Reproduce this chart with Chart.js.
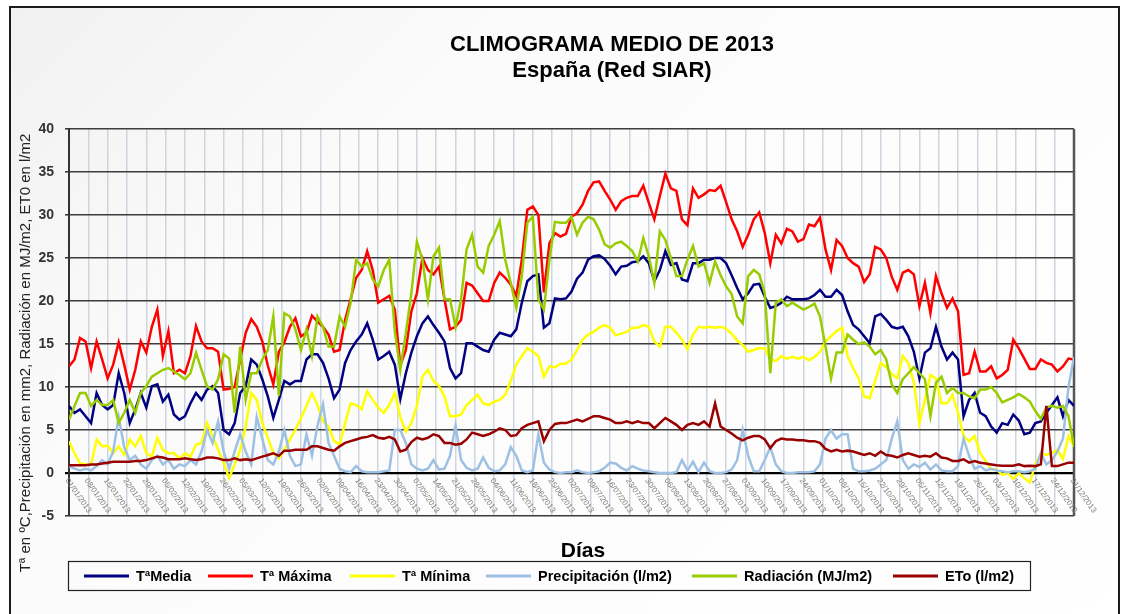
<!DOCTYPE html>
<html lang="es">
<head>
<meta charset="utf-8">
<title>Climograma medio de 2013</title>
<script src="https://cdn.jsdelivr.net/npm/chart.js@4.4.1/dist/chart.umd.min.js"></script>
<style>
  html, body { margin: 0; padding: 0; background: #fff; }
  body { width: 1128px; height: 614px; position: relative; overflow: hidden; }
  #frame {
    position: absolute; left: 9px; top: 6px; width: 1107px; height: 620px;
    border: 2px solid #1c1c1c;
    background: linear-gradient(135deg, #f1f1f1 0%, #fbfbfb 30%, #ffffff 100%);
  }
  #chart { position: absolute; left: 0; top: 0; }
</style>
</head>
<body>
<div id="frame"></div>
<canvas id="chart" width="1128" height="614"></canvas>
<script>
const days = [];
for (let d = 1; d <= 365; d += 2) days.push(d);

// Weekly tick labels on the horizontal axis
const tickLabels = [
  '01/01/2013', '08/01/2013', '15/01/2013', '22/01/2013', '29/01/2013', '05/02/2013', '12/02/2013',
  '19/02/2013', '26/02/2013', '05/03/2013', '12/03/2013', '19/03/2013', '26/03/2013', '02/04/2013',
  '09/04/2013', '16/04/2013', '23/04/2013', '30/04/2013', '07/05/2013', '14/05/2013', '21/05/2013',
  '28/05/2013', '04/06/2013', '11/06/2013', '18/06/2013', '25/06/2013', '02/07/2013', '09/07/2013',
  '16/07/2013', '23/07/2013', '30/07/2013', '06/08/2013', '13/08/2013', '20/08/2013', '27/08/2013',
  '03/09/2013', '10/09/2013', '17/09/2013', '24/09/2013', '01/10/2013', '08/10/2013', '15/10/2013',
  '22/10/2013', '29/10/2013', '05/11/2013', '12/11/2013', '19/11/2013', '26/11/2013', '03/12/2013',
  '10/12/2013', '17/12/2013', '24/12/2013', '31/12/2013'
];

const seriesNames = ['TªMedia', 'Tª Máxima', 'Tª Mínima', 'Precipitación (l/m2)', 'Radiación (MJ/m2)', 'ETo (l/m2)'];

const tMedia = [
  7.8, 7.0, 7.4, 6.6, 5.8, 9.3, 7.9, 7.4, 7.9, 11.6,
  9.3, 5.8, 7.4, 9.3, 7.6, 10.1, 10.3, 8.3, 9.1, 6.8,
  6.2, 6.6, 8.1, 9.3, 8.5, 9.7, 10.1, 9.3, 5.0, 4.5,
  5.8, 9.3, 10.1, 13.2, 12.6, 10.9, 8.9, 6.4, 8.5, 10.7,
  10.3, 10.7, 10.7, 13.2, 13.8, 13.8, 12.8, 11.0, 8.7, 9.7,
  12.8, 14.3, 15.3, 16.1, 17.4, 15.5, 13.2, 13.6, 14.1, 12.6,
  8.6, 11.6, 14.0, 15.9, 17.4, 18.2, 17.2, 16.3, 15.3, 12.2,
  11.0, 11.6, 15.1, 15.1, 14.7, 14.3, 14.1, 15.5, 16.3, 16.1,
  15.9, 16.7, 19.8, 22.3, 22.9, 23.1, 16.9, 17.4, 20.3, 20.2,
  20.3, 21.1, 22.6, 23.3, 24.8, 25.2, 25.3, 24.9, 24.1, 23.1,
  24.0, 24.1, 24.5, 24.6, 25.2, 24.4, 22.3, 23.6, 25.8, 24.2,
  24.4, 22.5, 22.3, 24.4, 24.4, 24.8, 24.8, 25.0, 25.0, 24.4,
  23.0, 21.5, 20.2, 20.9, 21.9, 22.0, 20.5, 19.2, 19.4, 19.8,
  20.5, 20.2, 20.2, 20.2, 20.3, 20.7, 21.3, 20.5, 20.5, 21.3,
  20.7, 18.8, 17.2, 16.7, 15.9, 15.1, 18.2, 18.5, 17.8, 17.0,
  16.8, 17.0, 15.9, 14.1, 11.0, 14.0, 14.5, 17.0, 14.7, 13.2,
  14.0, 13.2, 6.6, 8.5, 9.3, 7.0, 6.6, 5.4, 4.7, 5.8,
  5.6, 6.8, 6.1, 4.5, 4.7, 5.8, 6.0, 7.0, 7.9, 8.8,
  6.6, 8.5, 7.8
];

const tMaxima = [
  12.4, 13.2, 15.7, 15.3, 12.2, 15.3, 13.2, 11.0, 12.6, 15.2,
  12.6, 9.7, 12.0, 15.3, 14.0, 17.0, 19.0, 13.6, 16.5, 11.6,
  12.0, 11.6, 13.6, 17.1, 15.3, 14.5, 14.5, 14.1, 9.7, 9.8,
  10.0, 13.2, 16.3, 17.9, 17.0, 15.3, 12.5, 10.3, 14.1, 15.2,
  17.0, 18.0, 15.9, 16.3, 18.3, 17.6, 17.0, 16.1, 14.1, 14.3,
  17.8, 20.2, 22.7, 23.6, 25.8, 23.6, 19.8, 20.2, 20.6, 19.0,
  12.5, 14.3, 18.8, 20.9, 25.0, 23.6, 23.1, 24.0, 20.2, 16.7,
  17.0, 17.8, 22.1, 21.8, 20.9, 20.0, 20.0, 22.1, 23.3, 22.7,
  21.9, 20.6, 24.8, 30.6, 31.0, 30.0, 21.0, 26.7, 27.9, 27.5,
  27.8, 29.8, 30.2, 31.2, 32.8, 33.8, 33.9, 32.8, 31.8, 30.6,
  31.6, 32.0, 32.2, 32.2, 33.4, 31.4, 29.5, 32.2, 34.8, 33.1,
  32.8, 29.5, 28.8, 33.1, 32.0, 32.4, 32.9, 32.8, 33.4, 31.5,
  29.5, 28.1, 26.3, 27.7, 29.5, 30.3, 27.9, 24.4, 27.7, 26.7,
  28.4, 28.1, 26.9, 27.2, 28.9, 28.7, 29.7, 26.0, 23.6, 27.1,
  26.4, 25.0, 24.4, 24.0, 22.2, 23.1, 26.3, 26.0, 25.0, 22.8,
  21.3, 23.3, 23.6, 23.1, 19.4, 22.1, 18.6, 22.9, 20.9, 19.2,
  20.3, 18.8, 11.4, 11.6, 14.1, 11.8, 11.8, 12.4, 11.0, 11.4,
  12.0, 15.5, 14.5, 13.3, 12.1, 12.1, 13.2, 12.8, 12.6, 11.8,
  12.4, 13.3, 13.2
];

const tMinima = [
  3.7, 2.3, 1.1, 1.0, 1.0, 3.9, 3.1, 3.2, 2.3, 3.1,
  2.1, 3.9, 3.1, 4.3, 2.3, 1.9, 4.1, 2.7, 2.3, 2.3,
  1.7, 2.3, 1.9, 3.3, 3.5, 5.8, 4.3, 2.7, 1.2, -0.6,
  1.0, 2.7, 5.4, 9.3, 8.5, 5.8, 4.1, 2.3, 1.7, 2.7,
  3.9, 5.0, 6.4, 7.8, 9.3, 7.9, 6.0, 5.4, 3.7, 3.3,
  5.8, 8.1, 7.9, 7.4, 9.5, 8.5, 7.6, 7.0, 7.9, 9.3,
  6.5, 4.8, 5.8, 7.8, 11.2, 12.0, 10.7, 10.1, 8.9, 6.6,
  6.6, 6.8, 7.9, 8.5, 9.1, 8.1, 7.9, 8.3, 8.5, 9.1,
  10.7, 12.6, 13.6, 14.5, 14.1, 13.6, 11.2, 12.4, 12.3, 12.7,
  12.7, 13.2, 14.3, 15.5, 16.1, 16.4, 16.9, 17.2, 16.9, 16.0,
  16.2, 16.4, 16.9, 16.9, 17.2, 17.0, 15.3, 14.7, 17.0, 17.0,
  16.3, 15.5, 14.4, 16.1, 17.0, 16.9, 17.0, 16.9, 17.0, 16.8,
  16.2, 15.4, 14.9, 14.1, 14.3, 14.5, 14.5, 13.2, 13.0, 13.6,
  13.3, 13.5, 13.3, 13.5, 13.1, 13.5, 14.1, 15.3, 15.9, 16.5,
  16.9, 13.6, 12.2, 11.0, 8.9, 8.7, 10.7, 12.8, 12.3, 11.5,
  11.0, 13.6, 12.8, 10.5, 5.8, 8.5, 11.4, 11.0, 8.1, 8.1,
  9.1, 7.0, 4.3, 3.7, 4.3, 2.3, 1.4, 0.4, 0.4, -0.2,
  0.0, -0.7, 0.0, -0.6, -1.1, 1.0, 2.3, 2.1, 2.3, 2.7,
  1.6, 4.3, 3.1
];

const precipitacion = [
  0.8, 0.5, 0.3, 0.5, 0.3, 0.8, 1.5, 1.0, 2.5, 6.5,
  3.0, 1.5, 2.0, 1.0, 0.5, 1.5, 2.0, 1.0, 1.5, 0.5,
  1.0, 0.8, 1.5, 1.0, 2.5, 5.0, 3.5, 6.0, 2.5, 0.5,
  2.5, 4.5, 2.5, 1.0, 6.5, 4.0, 1.5, 1.0, 2.5, 5.0,
  2.0, 0.8, 1.0, 4.5, 2.0, 5.5, 8.0, 3.5, 2.0, 0.5,
  0.2, 0.1, 0.8, 0.2, 0.1, 0.1, 0.1, 0.2, 0.3, 5.0,
  5.0, 3.5, 1.0, 0.5, 0.3, 0.5, 1.5, 0.4, 0.5, 2.0,
  5.5, 1.5, 0.6, 0.3, 0.5, 1.8, 0.6, 0.2, 0.3, 1.0,
  3.0, 2.0, 0.3, 0.1, 0.3, 4.5, 1.2, 0.4, 0.1, 0.0,
  0.1, 0.1, 0.3, 0.1, 0.0, 0.1, 0.2, 0.6, 1.2, 1.1,
  0.6, 0.3, 0.8, 0.5, 0.3, 0.2, 0.1, 0.0, 0.0, 0.0,
  0.1, 1.5, 0.3, 1.3, 0.1, 1.2, 0.2, 0.0, 0.0, 0.1,
  0.4, 1.5, 5.0, 2.0, 0.2, 0.2, 1.5, 3.0, 1.0, 0.2,
  0.0, 0.0, 0.1, 0.1, 0.1, 0.2, 1.0, 4.0, 5.0, 4.0,
  4.5, 4.5, 0.5, 0.2, 0.2, 0.3, 0.5, 1.0, 1.5, 4.0,
  6.0, 1.5, 0.5, 1.0, 0.7, 1.2, 0.4, 1.0, 0.3, 0.2,
  0.2, 0.8, 4.0, 2.0, 0.5, 0.8, 0.3, 0.5, 0.3, 0.2,
  0.1, 0.2, 0.2, 0.1, 0.2, 0.5, 2.3, 1.0, 1.5, 2.5,
  4.0, 10.0, 13.5
];

const radiacion = [
  6.2, 7.8, 9.3, 9.3, 7.8, 8.5, 7.9, 7.9, 8.5, 5.8,
  7.0, 8.5, 7.0, 9.3, 10.1, 11.2, 11.6, 12.0, 12.2, 11.8,
  11.4, 10.9, 11.6, 14.0, 12.0, 10.1, 9.7, 10.9, 13.8, 13.3,
  7.0, 14.7, 8.5, 11.6, 11.6, 13.2, 14.3, 18.2, 9.0, 18.6,
  18.2, 16.7, 14.3, 16.7, 13.6, 18.2, 17.0, 14.7, 14.7, 18.2,
  17.0, 19.8, 24.8, 24.0, 24.4, 22.5, 21.7, 23.6, 24.8, 16.5,
  12.0, 16.3, 20.9, 26.9, 24.8, 20.2, 25.2, 26.2, 20.2, 20.2,
  17.0, 20.2, 26.0, 27.7, 24.0, 23.3, 26.4, 27.7, 29.3, 24.8,
  22.1, 19.2, 22.9, 29.1, 29.8, 20.2, 19.0, 24.8, 29.2, 29.1,
  29.1, 29.8, 27.7, 29.1, 29.8, 29.5, 28.3, 26.6, 26.2, 26.7,
  26.9, 26.4, 25.8, 24.6, 27.3, 25.2, 22.1, 28.1, 27.1, 25.0,
  22.9, 22.9, 24.8, 26.4, 24.0, 24.4, 22.1, 24.6, 23.0, 21.7,
  20.8, 18.2, 17.4, 22.9, 23.6, 23.1, 20.9, 11.6, 19.8, 20.2,
  19.4, 19.8, 19.4, 19.0, 19.3, 19.7, 18.2, 14.7, 11.0, 14.0,
  14.0, 16.1, 15.5, 15.0, 15.2, 14.7, 13.8, 14.3, 13.2, 10.3,
  9.3, 10.9, 11.6, 12.3, 11.6, 10.9, 6.6, 10.5, 11.2, 9.3,
  9.9, 9.3, 9.3, 8.9, 8.7, 9.7, 9.7, 10.0, 9.3, 8.2,
  8.5, 8.8, 9.2, 8.8, 8.3, 7.2, 6.3, 7.6, 7.8, 7.6,
  7.8, 6.6, 3.1
];

const eto = [
  0.9, 0.9, 0.9, 0.9, 1.0, 1.0, 1.1, 1.2, 1.3, 1.3,
  1.3, 1.3, 1.4, 1.4, 1.5, 1.7, 1.9, 1.8, 1.6, 1.6,
  1.6, 1.7, 1.6, 1.5, 1.6, 1.8, 1.8, 1.7, 1.5, 1.5,
  1.7, 1.5, 1.6, 1.5, 1.7, 1.9, 2.1, 2.3, 2.0, 2.6,
  2.6, 2.7, 2.7, 2.7, 3.1, 3.1, 2.9, 2.7, 2.6, 3.1,
  3.5, 3.7, 3.9, 4.1, 4.2, 4.4, 4.1, 4.0, 4.2, 3.9,
  2.5, 2.7, 3.6, 4.1, 3.9, 4.1, 4.5, 4.3, 3.5, 3.5,
  3.3, 3.4, 3.9, 4.7, 4.5, 4.3, 4.5, 4.8, 5.2, 5.0,
  4.3, 4.4, 5.2, 5.6, 5.8, 6.0, 3.7, 5.0, 5.7, 5.8,
  5.8, 6.0, 6.2, 6.0, 6.3, 6.6, 6.6, 6.4, 6.2, 5.8,
  5.8, 6.0, 5.8, 6.0, 5.8, 5.8, 5.2, 5.8, 6.4, 6.0,
  5.6, 5.0, 5.6, 5.8, 5.6, 6.0, 5.4, 8.1, 5.4, 5.0,
  4.6, 4.1, 3.8, 4.1, 4.3, 4.3, 3.9, 2.9, 3.7, 4.0,
  3.9, 3.9, 3.8, 3.8, 3.7, 3.7, 3.5, 2.8, 2.5, 2.7,
  2.5, 2.6, 2.5, 2.3, 2.1, 2.3, 2.0, 2.5, 2.1, 2.0,
  1.8, 2.1, 2.3, 2.1, 1.9, 2.0, 1.9, 2.3, 1.8, 1.7,
  1.4, 1.4, 1.6, 1.2, 1.4, 1.2, 1.1, 1.0, 0.9, 0.85,
  0.85, 0.85, 1.0, 0.8, 0.85, 0.8, 1.0, 7.8, 0.8, 0.8,
  1.0, 1.2, 1.2
];

const series = [tMedia, tMaxima, tMinima, precipitacion, radiacion, eto];
const lineColors = ['#000080', '#ff0000', '#ffff00', '#9dc0e3', '#99cc00', '#990000'];

const FONT = 'Arial, "Liberation Sans", sans-serif';

// Titles, rotated day labels inside the plot, and the boxed legend
const decor = {
  id: 'decor',
  beforeDatasetsDraw(chart) {
    const { ctx, chartArea: a, scales: { x, y } } = chart;
    ctx.save();
    // right border of the plot
    ctx.strokeStyle = '#555';
    ctx.lineWidth = 2.5;
    ctx.beginPath();
    ctx.moveTo(a.right, a.top);
    ctx.lineTo(a.right, a.bottom);
    ctx.stroke();

    // day labels hang under the zero line
    const y0 = y.getPixelForValue(0);
    ctx.fillStyle = '#7d7d7d';
    ctx.font = '8px ' + FONT;
    ctx.textAlign = 'left';
    ctx.textBaseline = 'top';
    tickLabels.forEach((lab, i) => {
      const px = x.getPixelForValue(1 + 7 * i);
      ctx.save();
      ctx.translate(px + 1, y0 + 4);
      ctx.rotate(55 * Math.PI / 180);
      ctx.fillText(lab, 0, 0);
      ctx.restore();
    });
    ctx.restore();
  },
  afterDraw(chart) {
    const { ctx } = chart;
    ctx.save();
    ctx.fillStyle = '#000';
    ctx.textAlign = 'center';
    ctx.textBaseline = 'alphabetic';
    ctx.font = 'bold 22px ' + FONT;
    ctx.fillText('CLIMOGRAMA MEDIO DE 2013', 612, 51);
    ctx.fillText('España (Red SIAR)', 612, 77);

    // vertical axis title
    ctx.save();
    ctx.translate(26, 353);
    ctx.rotate(-Math.PI / 2);
    ctx.font = '15px ' + FONT;
    ctx.fillStyle = '#222';
    ctx.textBaseline = 'middle';
    ctx.fillText('Tª en ºC,Precipitación en mm2, Radiación en MJ/m2, ET0 en l/m2', 0, 0);
    ctx.restore();

    ctx.font = 'bold 21px ' + FONT;
    ctx.fillText('Días', 583, 557);

    // legend box
    ctx.strokeStyle = '#222';
    ctx.lineWidth = 1.2;
    ctx.strokeRect(68.5, 561.5, 962, 29);
    const legendX = [84, 208, 350, 486, 692, 893];
    ctx.font = 'bold 14.5px ' + FONT;
    ctx.textAlign = 'left';
    ctx.textBaseline = 'middle';
    seriesNames.forEach((name, i) => {
      ctx.strokeStyle = lineColors[i];
      ctx.lineWidth = 3;
      ctx.beginPath();
      ctx.moveTo(legendX[i], 576);
      ctx.lineTo(legendX[i] + 45, 576);
      ctx.stroke();
      ctx.fillStyle = '#000';
      ctx.fillText(name, legendX[i] + 52, 577);
    });
    ctx.restore();
  }
};

new Chart(document.getElementById('chart'), {
  type: 'line',
  data: {
    datasets: series.map((vals, i) => ({
      label: seriesNames[i],
      data: days.map((d, k) => ({ x: d, y: vals[k] })),
      borderColor: lineColors[i],
      backgroundColor: lineColors[i],
      borderWidth: 2.5,
      pointRadius: 0,
      tension: 0,
      fill: false,
      order: 6 - i
    }))
  },
  options: {
    responsive: false,
    animation: false,
    events: [],
    layout: { padding: { left: 0, top: 129, right: 54, bottom: 98 } },
    plugins: {
      legend: { display: false },
      tooltip: { enabled: false },
      title: { display: false }
    },
    scales: {
      x: {
        type: 'linear',
        min: 1,
        max: 365,
        afterBuildTicks: axis => {
          axis.ticks = tickLabels.map((_, i) => ({ value: 1 + 7 * i }));
        },
        afterFit: axis => { axis.height = 0; },
        ticks: { display: false },
        grid: { color: '#cdd6e0', lineWidth: 1.5, drawTicks: false, z: -1 },
        border: { display: false }
      },
      y: {
        min: -5,
        max: 40,
        afterFit: axis => { axis.width = 69; },
        ticks: {
          stepSize: 5,
          padding: 11,
          color: '#333',
          font: { family: FONT, size: 14, weight: 'bold' }
        },
        grid: {
          color: c => (c.tick && c.tick.value === 0 ? '#000' : '#3c3c3c'),
          lineWidth: c => (c.tick && c.tick.value === 0 ? 2.2 : 1.6),
          tickLength: 4
        },
        border: { color: '#333', width: 2 }
      }
    }
  },
  plugins: [decor]
});
</script>
</body>
</html>
